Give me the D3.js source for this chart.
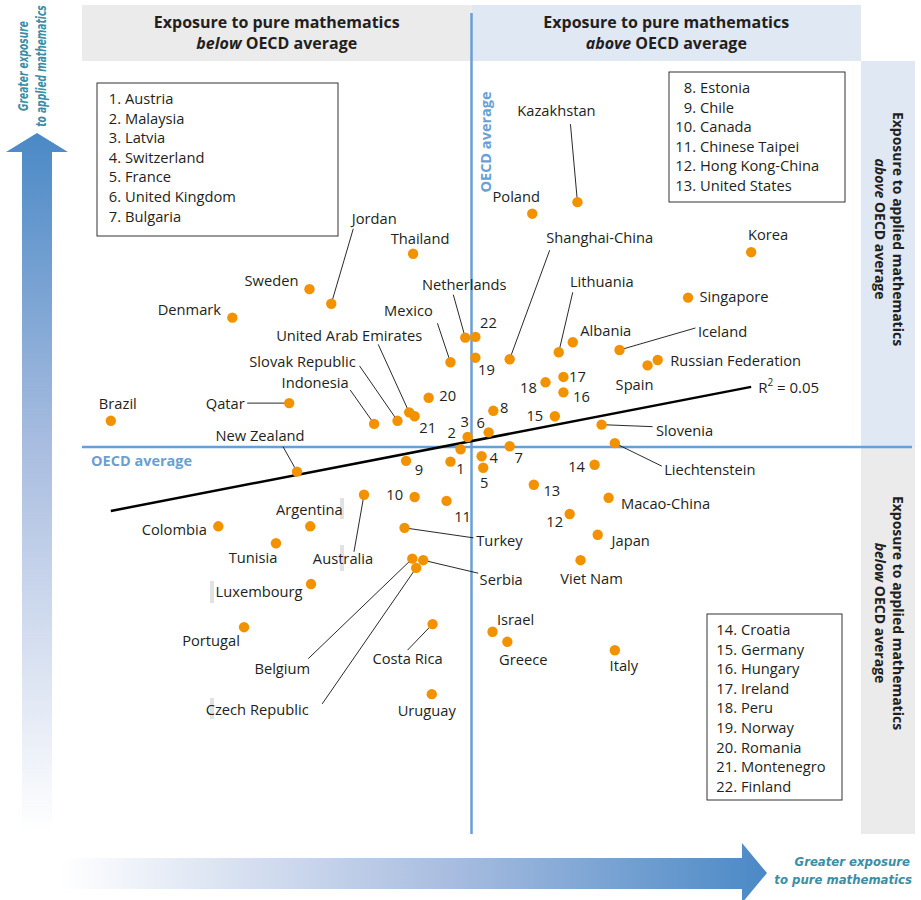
<!DOCTYPE html>
<html>
<head>
<meta charset="utf-8">
<script src="https://cdn.jsdelivr.net/npm/d3@7"></script>
<style>
  body { margin: 0; background: #fff; }
  text { font-family: 'Open Sans', sans-serif; }
</style>
</head>
<body>
<div id="chart"></div>
<script>
/* DATA - exposure relative to OECD average (0 = OECD average) */
var countries = ["Kazakhstan","Poland","Thailand","Korea","Sweden","Jordan","Singapore","Denmark",
  "Netherlands","Finland","Albania","Lithuania","Iceland","Mexico","Norway","Shanghai-China",
  "Russian Federation","Spain","Ireland","Peru","Hungary","Qatar","Brazil","Romania","Estonia",
  "Germany","United Arab Emirates","Montenegro","Slovak Republic","Indonesia","Slovenia",
  "United Kingdom","Latvia","Malaysia","Liechtenstein","Bulgaria","Switzerland","Austria","Chile",
  "France","Croatia","New Zealand","United States","Australia","Canada","Macao-China",
  "Chinese Taipei","Hong Kong-China","Colombia","Argentina","Turkey","Japan","Tunisia","Belgium",
  "Serbia","Czech Republic","Viet Nam","Luxembourg","Portugal","Costa Rica","Israel","Greece",
  "Italy","Uruguay"];

// x: exposure to pure mathematics
var pureExposure = [0.136,0.078,-0.075,0.359,-0.208,-0.180,0.278,-0.307,
  -0.008,0.005,0.130,0.112,0.190,-0.027,0.005,0.049,
  0.239,0.226,0.118,0.095,0.118,-0.234,-0.463,-0.055,0.028,
  0.107,-0.080,-0.073,-0.095,-0.125,0.167,
  0.022,-0.005,-0.014,0.184,0.049,0.013,-0.027,-0.084,
  0.015,0.158,-0.224,0.080,-0.138,-0.073,0.176,
  -0.032,0.126,-0.325,-0.207,-0.086,0.162,-0.251,-0.076,
  -0.062,-0.071,0.140,-0.206,-0.292,-0.050,0.027,0.046,
  0.184,-0.051];

// y: exposure to applied mathematics
var appliedExposure = [0.318,0.303,0.251,0.253,0.205,0.186,0.194,0.168,
  0.142,0.143,0.136,0.123,0.126,0.110,0.116,0.114,
  0.113,0.106,0.091,0.084,0.071,0.057,0.034,0.064,0.047,
  0.040,0.045,0.040,0.034,0.030,0.029,
  0.019,0.013,-0.003,0.005,0.001,-0.012,-0.019,-0.018,
  -0.027,-0.023,-0.032,-0.049,-0.062,-0.065,-0.066,
  -0.070,-0.087,-0.103,-0.103,-0.105,-0.114,-0.125,-0.145,
  -0.147,-0.157,-0.147,-0.178,-0.234,-0.230,-0.240,-0.253,
  -0.264,-0.321];

// countries shown by number on the chart
var numberedCountries = ["Austria","Malaysia","Latvia","Switzerland","France","United Kingdom",
  "Bulgaria","Estonia","Chile","Canada","Chinese Taipei","Hong Kong-China","United States",
  "Croatia","Germany","Hungary","Ireland","Peru","Norway","Romania","Montenegro","Finland"];

// linear fit
var fitIntercept = 0.0077;
var fitSlope = 0.196;
var fitRange = [-0.463, 0.359];
var fitR2 = "0.05";

/* LAYOUT - label offsets from the dot [dx, dy, leaderX, leaderY] in pixels */
var labelLayout = {
  "Kazakhstan":[-21,-91,-7,-78], "Poland":[-16,-17], "Thailand":[7,-15], "Korea":[17,-17],
  "Sweden":[-38,-8], "Jordan":[43,-85,22,-75], "Singapore":[46,-1], "Denmark":[-43,-8],
  "Netherlands":[-1,-53,-12,-43], "Shanghai-China":[90,-121,40,-109], "Lithuania":[43,-70,14,-60],
  "Albania":[33,-11], "Iceland":[103,-18,76,-22], "Mexico":[-42,-51,-13,-39],
  "Russian Federation":[78,1], "Spain":[-13,19], "United Arab Emirates":[-60,-76,-31,-68],
  "Slovak Republic":[-95,-59,-38,-55], "Indonesia":[-59,-41,-24,-34], "Qatar":[-64,1,-42,0],
  "Brazil":[7,-17], "Slovenia":[83,6,51,2], "New Zealand":[-37,-36,-14,-25],
  "Liechtenstein":[95,27,47,23], "Macao-China":[57,6], "Argentina":[-1,-16], "Colombia":[-44,4],
  "Turkey":[95,13,69,10], "Japan":[33,6], "Tunisia":[-23,15], "Australia":[-21,64,-10,57],
  "Serbia":[78,20,55,13], "Viet Nam":[11,19], "Luxembourg":[-52,8], "Portugal":[-33,14],
  "Belgium":[-130,110,-104,100], "Costa Rica":[-25,35,-25,26], "Israel":[23,-12],
  "Greece":[16,18], "Italy":[9,16], "Czech Republic":[-159,142,-94,136], "Uruguay":[-5,17],
  "Austria":[10,7], "Malaysia":[-9,-16], "Latvia":[-3,-15], "Switzerland":[12,2], "France":[1,15],
  "United Kingdom":[-8,-10], "Bulgaria":[9,12], "Estonia":[11,-3], "Chile":[13,9],
  "Canada":[-20,-2], "Chinese Taipei":[16,16], "Hong Kong-China":[-15,8], "United States":[18,6],
  "Croatia":[-18,2], "Germany":[-20,0], "Hungary":[18,5], "Ireland":[14,0], "Peru":[-17,6],
  "Norway":[11,12], "Romania":[19,-2], "Montenegro":[13,12], "Finland":[13,-14]
};

/* VISUALIZATION SETUP */
var width = 921;
var height = 900;
var blue = "#6a9fd4";
var orange = "#f39200";
var ink = "#231f20";
var teal = "#3a8ea6";

var svg = d3.select("#chart")
  .append("svg")
  .attr("width", width)
  .attr("height", height);

var x = d3.scaleLinear().domain([-0.5, 0.5]).range([82, 861]);
var y = d3.scaleLinear().domain([-0.5, 0.5]).range([832, 62]);

var defs = svg.append("defs");
var gradUp = defs.append("linearGradient").attr("id", "gradUp")
  .attr("x1", 0).attr("y1", 1).attr("x2", 0).attr("y2", 0);
gradUp.append("stop").attr("offset", "0%").attr("stop-color", "#ffffff");
gradUp.append("stop").attr("offset", "55%").attr("stop-color", "#a9bde0");
gradUp.append("stop").attr("offset", "100%").attr("stop-color", "#4a89c6");
var gradRight = defs.append("linearGradient").attr("id", "gradRight")
  .attr("x1", 0).attr("y1", 0).attr("x2", 1).attr("y2", 0);
gradRight.append("stop").attr("offset", "0%").attr("stop-color", "#ffffff");
gradRight.append("stop").attr("offset", "55%").attr("stop-color", "#a9bde0");
gradRight.append("stop").attr("offset", "100%").attr("stop-color", "#4a89c6");

// quadrant header bands
svg.append("rect").attr("x", 82).attr("y", 5).attr("width", x(0) - 82).attr("height", 56).attr("fill", "#ebebeb");
svg.append("rect").attr("x", x(0)).attr("y", 5).attr("width", 861 - x(0)).attr("height", 56).attr("fill", "#dfe8f3");
svg.append("rect").attr("x", 861).attr("y", 61).attr("width", 54).attr("height", y(0) - 61).attr("fill", "#dfe8f3");
svg.append("rect").attr("x", 861).attr("y", y(0)).attr("width", 54).attr("height", 834 - y(0)).attr("fill", "#ebebeb");

function headerTop(cx, word) {
  var t = svg.append("text").attr("x", cx).attr("text-anchor", "middle")
    .attr("font-size", 16).attr("font-weight", "bold").attr("fill", ink);
  t.append("tspan").attr("x", cx).attr("y", 28).text("Exposure to pure mathematics");
  var l2 = t.append("tspan").attr("x", cx).attr("y", 49);
  l2.append("tspan").attr("font-style", "italic").text(word);
  l2.append("tspan").text(" OECD average");
}
headerTop((82 + x(0)) / 2, "below");
headerTop((x(0) + 861) / 2, "above");

function headerSide(cy, word) {
  var g = svg.append("g").attr("transform", "translate(888," + cy + ") rotate(90)");
  var t = g.append("text").attr("text-anchor", "middle")
    .attr("font-size", 14).attr("font-weight", "bold").attr("fill", ink);
  t.append("tspan").attr("x", 0).attr("y", -5).text("Exposure to applied mathematics");
  var l2 = t.append("tspan").attr("x", 0).attr("y", 13);
  l2.append("tspan").attr("font-style", "italic").text(word);
  l2.append("tspan").text(" OECD average");
}
headerSide(229, "above");
headerSide(613, "below");

// OECD average lines
svg.append("line").attr("x1", x(0)).attr("x2", x(0)).attr("y1", 13).attr("y2", 834)
  .attr("stroke", blue).attr("stroke-width", 2.5);
svg.append("line").attr("x1", 82).attr("x2", 912).attr("y1", y(0)).attr("y2", y(0))
  .attr("stroke", blue).attr("stroke-width", 2.5);
svg.append("text").attr("x", 91).attr("y", y(0) + 19).attr("font-size", 14.5)
  .attr("font-weight", "bold").attr("fill", blue).text("OECD average");
svg.append("text").attr("transform", "translate(" + (x(0) + 19) + ",142) rotate(-90)")
  .attr("text-anchor", "middle").attr("font-size", 14.5)
  .attr("font-weight", "bold").attr("fill", blue).text("OECD average");

// trend line
svg.append("line")
  .attr("x1", x(fitRange[0])).attr("y1", y(fitIntercept + fitSlope * fitRange[0]))
  .attr("x2", x(fitRange[1])).attr("y2", y(fitIntercept + fitSlope * fitRange[1]))
  .attr("stroke", "#000").attr("stroke-width", 2.5);
var r2 = svg.append("text")
  .attr("x", x(fitRange[1]) + 7).attr("y", y(fitIntercept + fitSlope * fitRange[1]) + 6)
  .attr("font-size", 15).attr("fill", ink);
r2.append("tspan").text("R");
r2.append("tspan").attr("font-size", 10).attr("dy", -7).text("2");
r2.append("tspan").attr("dy", 7).text(" = " + fitR2);

// faint marks from the original artwork
var ghost = [[340, 498, 21], [340, 545, 26], [210, 581, 22], [210, 698, 21]];
svg.selectAll(".ghost").data(ghost).enter().append("rect")
  .attr("x", function(d) { return d[0]; }).attr("y", function(d) { return d[1]; })
  .attr("width", 4).attr("height", function(d) { return d[2]; }).attr("fill", "#e2e2e2");

var points = countries.map(function(name, i) {
  var idx = numberedCountries.indexOf(name);
  return { name: name, px: pureExposure[i], ap: appliedExposure[i],
           label: idx >= 0 ? String(idx + 1) : name, lay: labelLayout[name] || [0, -14] };
});

// leader lines
svg.append("g").selectAll("line")
  .data(points.filter(function(d) { return d.lay.length > 2; }))
  .enter().append("line")
  .attr("x1", function(d) { return x(d.px); })
  .attr("y1", function(d) { return y(d.ap); })
  .attr("x2", function(d) { return x(d.px) + d.lay[2]; })
  .attr("y2", function(d) { return y(d.ap) + d.lay[3]; })
  .attr("stroke", "#111").attr("stroke-width", 0.9);

// dots
svg.append("g").selectAll("circle")
  .data(points).enter().append("circle")
  .attr("cx", function(d) { return x(d.px); })
  .attr("cy", function(d) { return y(d.ap); })
  .attr("r", 5.2)
  .attr("fill", orange);

// labels
svg.append("g").selectAll("text")
  .data(points).enter().append("text")
  .attr("x", function(d) { return x(d.px) + d.lay[0]; })
  .attr("y", function(d) { return y(d.ap) + d.lay[1]; })
  .attr("dy", "0.35em")
  .attr("text-anchor", "middle")
  .attr("font-size", 14.7)
  .attr("fill", ink)
  .text(function(d) { return d.label; });

// legend boxes for numbered countries
var legendBoxes = [
  { from: 0, to: 7, x: 97, y: 83, w: 241, h: 153, numX: 121, base: 104 },
  { from: 7, to: 13, x: 669, y: 72, w: 176, h: 130, numX: 696, base: 93 },
  { from: 13, to: 22, x: 707, y: 614, w: 135, h: 186, numX: 737, base: 635 }
];
legendBoxes.forEach(function(b) {
  svg.append("rect").attr("x", b.x).attr("y", b.y).attr("width", b.w).attr("height", b.h)
    .attr("fill", "#fff").attr("stroke", "#333").attr("stroke-width", 1);
  var items = d3.range(b.from, b.to);
  var g = svg.append("g");
  g.selectAll(".num").data(items).enter().append("text")
    .attr("x", b.numX).attr("y", function(d, i) { return b.base + i * 19.6; })
    .attr("text-anchor", "end").attr("font-size", 14.7).attr("fill", ink)
    .text(function(d) { return (d + 1) + "."; });
  g.selectAll(".nm").data(items).enter().append("text")
    .attr("x", b.numX + 4).attr("y", function(d, i) { return b.base + i * 19.6; })
    .attr("font-size", 14.7).attr("fill", ink)
    .text(function(d) { return numberedCountries[d]; });
});

// axis arrows
svg.append("path")
  .attr("d", "M22,832 L22,152 L6,152 L37,133 L68,152 L52,152 L52,832 Z")
  .attr("fill", "url(#gradUp)");
svg.append("path")
  .attr("d", "M60,858 L742,858 L742,843 L767,873 L742,903 L742,889 L60,889 Z")
  .attr("fill", "url(#gradRight)");

var condensed = "'Liberation Sans Narrow','DejaVu Sans Condensed','Open Sans',sans-serif";
var up = svg.append("text").attr("transform", "translate(0,66) rotate(-90) scale(0.75,1)")
  .attr("text-anchor", "middle").attr("font-size", 13.5).attr("font-weight", "bold")
  .attr("font-style", "italic").attr("fill", teal).style("font-family", condensed)
  .style("font-stretch", "condensed");
up.append("tspan").attr("x", 0).attr("y", 28).text("Greater exposure");
up.append("tspan").attr("x", 0).attr("y", 46).text("to applied mathematics");

var rt = svg.append("text").attr("text-anchor", "end").attr("font-size", 13)
  .attr("font-weight", "bold").attr("font-style", "italic").attr("fill", teal)
  .style("font-family", condensed).style("font-stretch", "condensed");
rt.append("tspan").attr("x", 910).attr("y", 866).text("Greater exposure");
rt.append("tspan").attr("x", 912).attr("y", 884).text("to pure mathematics");
</script>
</body>
</html>
